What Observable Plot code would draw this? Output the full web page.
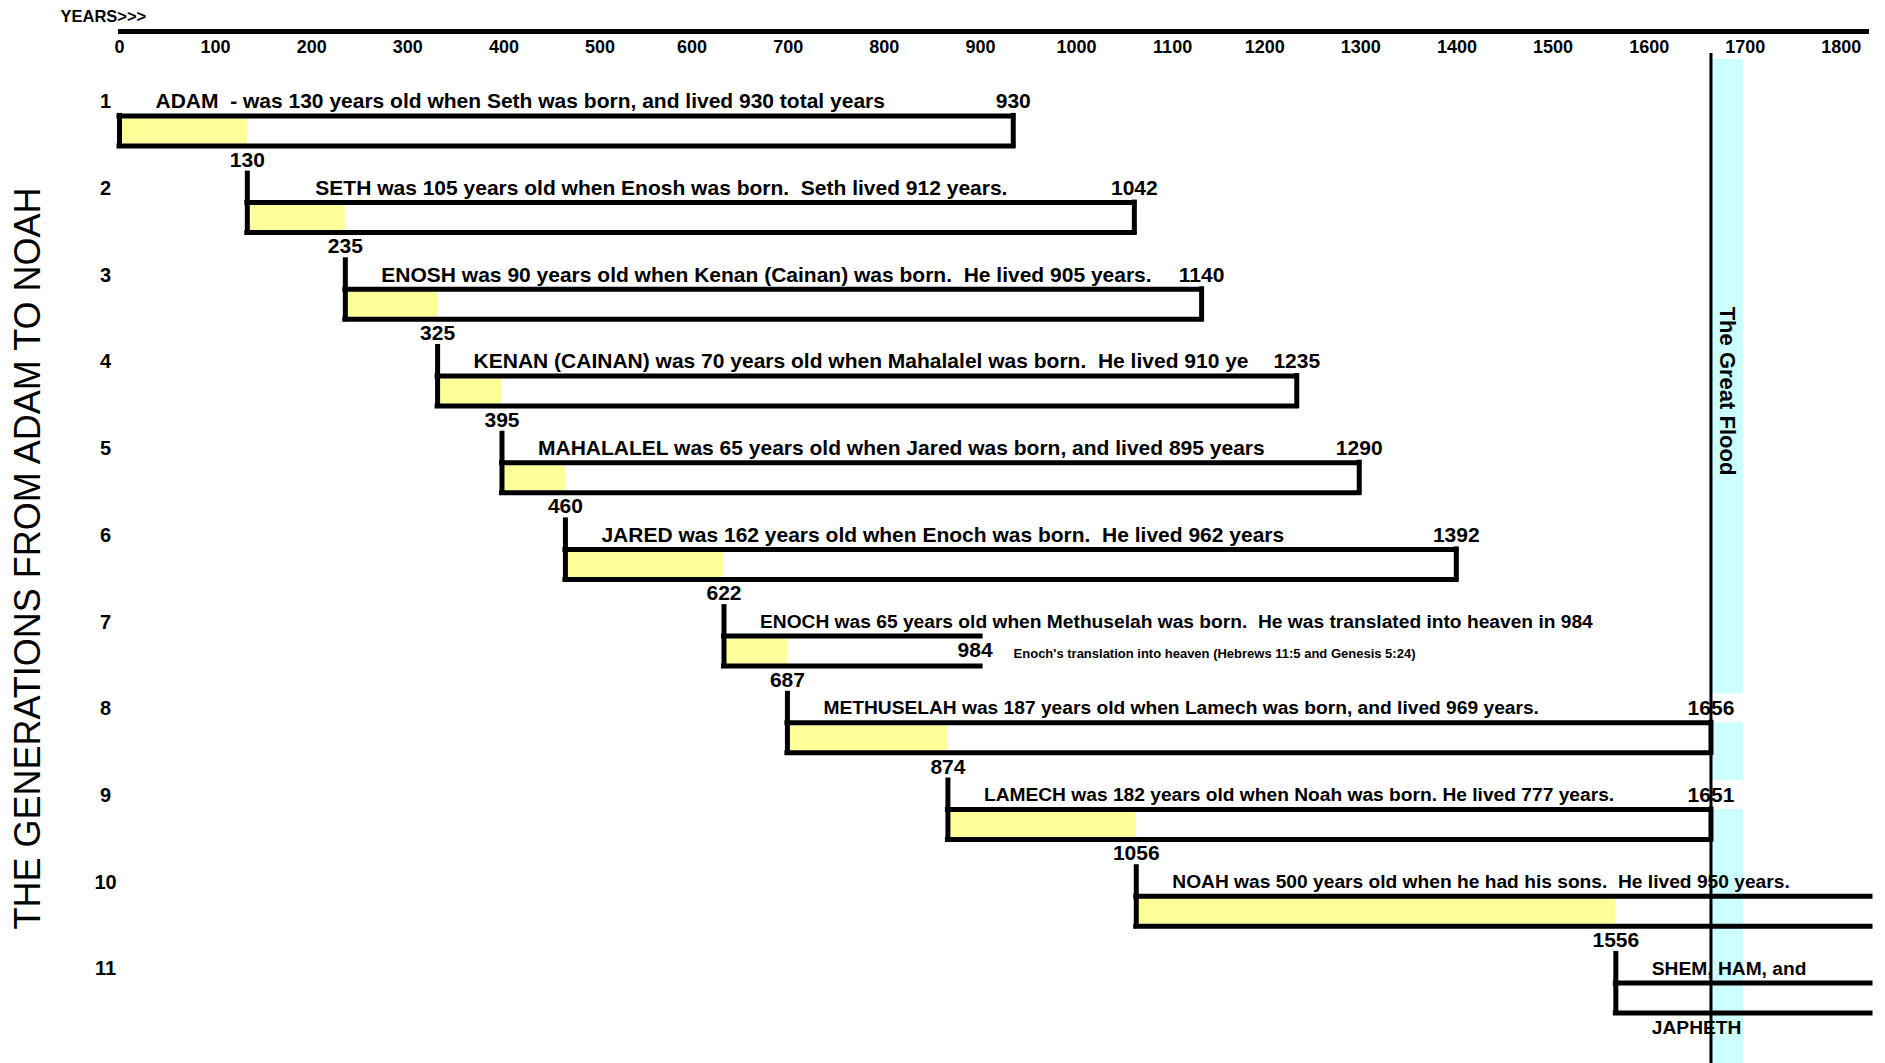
<!DOCTYPE html>
<html>
<head>
<meta charset="utf-8">
<script src="https://cdn.jsdelivr.net/npm/d3@7"></script>
<script src="https://cdn.jsdelivr.net/npm/@observablehq/plot@0.6"></script>
<style>
  html, body { margin: 0; padding: 0; background: #ffffff; }
  svg text { white-space: pre; }
</style>
</head>
<body>
<div id="chart"></div>
<script>
// ---------------- DATA ----------------
const generation = [1, 2, 3, 4, 5, 6, 7, 8, 9, 10, 11];
// where each life bar starts / the son's birth falls, as drawn in the picture
const bornYear    = [0, 133, 235, 331, 398, 464, 629, 695, 862, 1058, 1557];
const sonBornYear = [133, 235, 331, 398, 464, 629, 695, 862, 1058, 1557, null];
const sonBornLabel = ["130", "235", "325", "395", "460", "622", "687", "874", "1056", "1556", ""];
// where each life bar ends as drawn in the picture (Noah and his sons run off the chart)
const barEndYear = [930, 1056, 1126, 1225, 1290, 1391, 896, 1656, 1656, 1822, 1822];
const barClosed  = [true, true, true, true, true, true, false, true, true, false, false];
const endLabel   = ["930", "1042", "1140", "1235", "1290", "1392", "984", "1656", "1651", "", ""];
const description = [
  "ADAM  - was 130 years old when Seth was born, and lived 930 total years",
  "SETH was 105 years old when Enosh was born.  Seth lived 912 years.",
  "ENOSH was 90 years old when Kenan (Cainan) was born.  He lived 905 years.",
  "KENAN (CAINAN) was 70 years old when Mahalalel was born.  He lived 910 ye",
  "MAHALALEL was 65 years old when Jared was born, and lived 895 years",
  "JARED was 162 years old when Enoch was born.  He lived 962 years",
  "ENOCH was 65 years old when Methuselah was born.  He was translated into heaven in 984",
  "METHUSELAH was 187 years old when Lamech was born, and lived 969 years.",
  "LAMECH was 182 years old when Noah was born. He lived 777 years.",
  "NOAH was 500 years old when he had his sons.  He lived 950 years.",
  "SHEM, HAM, and"
];
const sonsSecondLine = "JAPHETH";
const enochNote = "Enoch's translation into heaven (Hebrews 11:5 and Genesis 5:24)";
const floodYear = 1656;
const floodBandEndYear = 1690;
const floodLabel = "The Great Flood";
const xTickValues = d3.range(0, 1801, 100);
const axisLabel = "YEARS>>>";
const sideTitle = "THE GENERATIONS FROM ADAM TO NOAH";
const xMaxYear = 1822;

// -------------- TABLE -----------------
const rows = generation.map((g, i) => ({
  row: g, start: bornYear[i], son: sonBornYear[i], sonLabel: sonBornLabel[i], end: barEndYear[i],
  closed: barClosed[i], endLabel: endLabel[i], desc: description[i]
}));

// -------------- LAYOUT ----------------
const W = 1885, H = 1063, TOP = 31;
const ROW1 = 130.4, ROWPX = 86.7;
const yDomain = [1 + (TOP - ROW1) / ROWPX, 1 + (H - ROW1) / ROWPX];
const px = p => p / ROWPX;
const FONT = "'Liberation Sans', Arial, Helvetica, sans-serif";
const YELLOW = "#ffff99", CYAN = "#ccffff";

const big = rows.filter(d => d.row <= 6);
const small = rows.filter(d => d.row >= 7);

const tickAxis = (ticks, dx) => Plot.axisX({ anchor: "top", ticks, tickSize: 0, tickPadding: 0, dy: 21, dx,
  tickFormat: d => String(d), fontSize: 18, fontWeight: "bold", label: null });

const chart = Plot.plot({
  width: W, height: H,
  marginTop: TOP, marginBottom: 0, marginLeft: 0, marginRight: 0,
  x: { domain: [0, xMaxYear], range: [119, 1870], axis: null },
  y: { domain: yDomain, range: [TOP, H], axis: null },
  style: { fontFamily: FONT, color: "black", background: "white", overflow: "visible" },
  marks: [
    // flood band
    Plot.rect([0], { x1: () => floodYear, x2: () => floodBandEndYear,
      y1: () => yDomain[0] + px(28), y2: () => yDomain[1], fill: CYAN }),
    // white label cells over the band (rows ending at the flood)
    Plot.rect(rows.filter(d => d.end === floodYear), { x1: () => floodYear, x2: () => floodBandEndYear,
      y1: d => d.row - px(44), y2: d => d.row - px(15), fill: "white" }),
    // years before the son's birth
    Plot.ruleY(rows.filter(d => d.son != null), { x1: "start", x2: "son", y: "row",
      stroke: YELLOW, strokeWidth: 25 }),
    // bar outlines
    Plot.ruleY(rows, { x1: "start", x2: "end", y: "row", dy: -15, stroke: "black", strokeWidth: 5, strokeLinecap: "square" }),
    Plot.ruleY(rows, { x1: "start", x2: "end", y: "row", dy: 15, stroke: "black", strokeWidth: 5, strokeLinecap: "square" }),
    Plot.ruleX(rows, { x: "start", y1: d => d.row - px(d.row === 1 ? 15 : 44), y2: d => d.row + px(15),
      stroke: "black", strokeWidth: 5, strokeLinecap: "square" }),
    Plot.ruleX(rows.filter(d => d.closed), { x: "end", y1: d => d.row - px(15), y2: d => d.row + px(15),
      stroke: "black", strokeWidth: 5, strokeLinecap: "square" }),
    // top axis
    Plot.ruleY([0], { x1: () => 0, x2: () => xMaxYear, y: () => yDomain[0], stroke: "black", strokeWidth: 5, dx: -1 }),
    tickAxis(xTickValues.filter(t => t <= 500), 0),
    tickAxis(xTickValues.filter(t => t > 500 && t <= 1100), -4),
    tickAxis(xTickValues.filter(t => t > 1100), -8),
    Plot.text([axisLabel], { frameAnchor: "top-left", dx: 60, dy: -15, text: d => d,
      textAnchor: "start", lineAnchor: "middle", fontSize: 16.5, fontWeight: "bold" }),
    // row numbers
    Plot.text(rows, { frameAnchor: "left", y: "row", dx: 105, dy: -29, text: d => String(d.row),
      textAnchor: "middle", fontSize: 20, fontWeight: "bold" }),
    // descriptions
    Plot.text(big.filter(d => d.row !== 2), { x: "start", y: "row", dx: 36, dy: -29.5, text: "desc",
      textAnchor: "start", fontSize: 21, fontWeight: "bold" }),
    Plot.text(big.filter(d => d.row === 2), { x: "start", y: "row", dx: 68, dy: -29.5, text: "desc",
      textAnchor: "start", fontSize: 21, fontWeight: "bold" }),
    Plot.text(small, { x: "start", y: "row", dx: 36, dy: -29.5, text: "desc",
      textAnchor: "start", fontSize: 19.2, fontWeight: "bold" }),
    Plot.text(rows.filter(d => d.row === 11), { x: "start", y: "row", dx: 36, dy: 30, text: () => sonsSecondLine,
      textAnchor: "start", fontSize: 19.2, fontWeight: "bold" }),
    // death labels
    Plot.text(rows.filter(d => d.endLabel && d.closed), { x: "end", y: "row", dy: -29.5, text: "endLabel",
      fontSize: 21, fontWeight: "bold" }),
    Plot.text(rows.filter(d => d.row === 7), { x: "end", y: "row", dx: 12, dy: -1, text: "endLabel",
      textAnchor: "end", fontSize: 21, fontWeight: "bold" }),
    Plot.text(rows.filter(d => d.row === 7), { x: "end", y: "row", dx: 33, dy: 3, text: () => enochNote,
      textAnchor: "start", fontSize: 13, fontWeight: "bold" }),
    // son birth labels
    Plot.text(rows.filter(d => d.son != null), { x: "son", y: "row", dy: 29, text: "sonLabel",
      fontSize: 21, fontWeight: "bold" }),
    // flood label and line
    Plot.text([floodLabel], { x: () => (floodYear + floodBandEndYear) / 2, y: () => 4, text: d => d,
      rotate: 90, fontSize: 22, fontWeight: "bold" }),
    Plot.ruleX([floodYear], { x: d => d, y1: () => yDomain[0] + px(22), y2: () => yDomain[1],
      stroke: "black", strokeWidth: 3 }),
    // side title
    Plot.text([sideTitle], { frameAnchor: "left", dx: 27.5, dy: 11, text: d => d, rotate: -90,
      textAnchor: "middle", lineAnchor: "middle", fontSize: 36, fontWeight: "normal" })
  ]
});
document.getElementById("chart").appendChild(chart);
</script>
</body>
</html>
